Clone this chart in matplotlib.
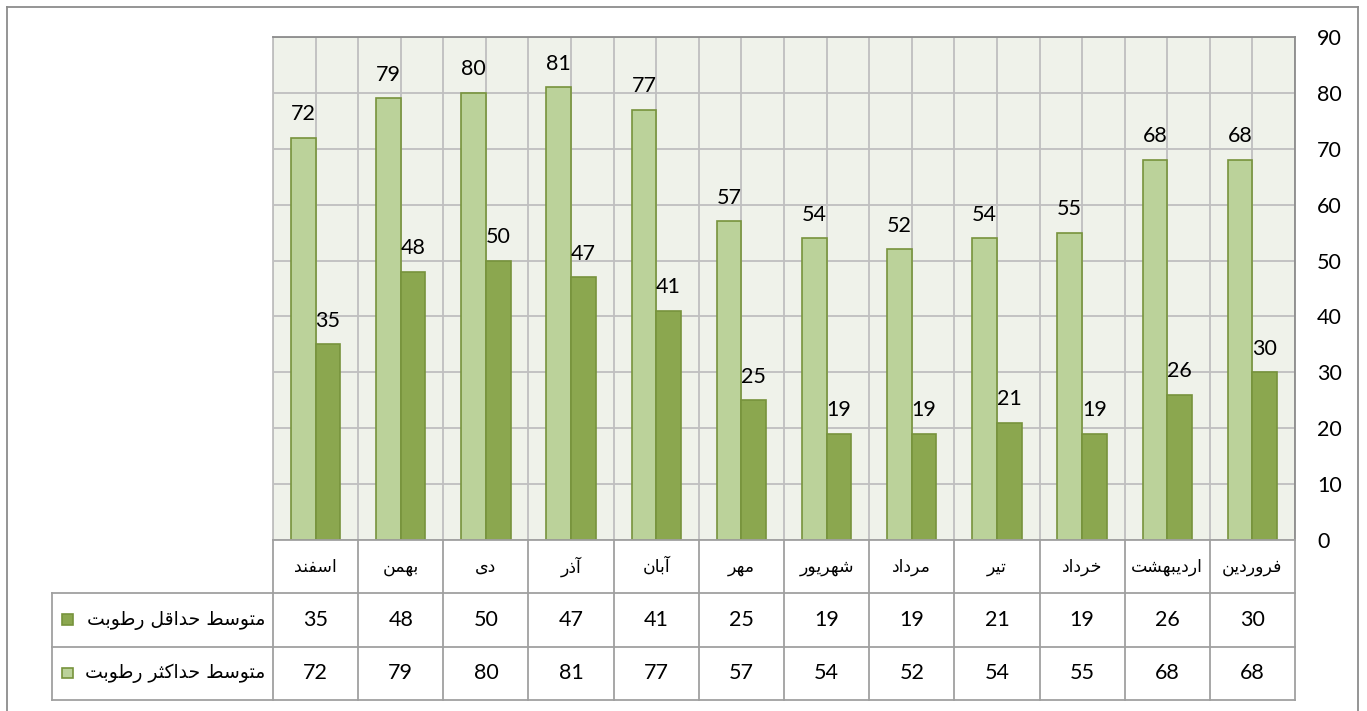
import matplotlib
matplotlib.use('Agg')
import matplotlib.pyplot as plt
import numpy as np
from matplotlib.lines import Line2D
from matplotlib.patches import Rectangle

plt.rcParams['font.family'] = ['Lato', 'DejaVu Sans']

# ماه‌ها به ترتیب تقویم (فروردین اول) - نمایش از راست به چپ
months = ['فروردین', 'اردیبهشت', 'خرداد', 'تیر', 'مرداد', 'شهریور',
          'مهر', 'آبان', 'آذر', 'دی', 'بهمن', 'اسفند']
rh_min = [30, 26, 19, 21, 19, 19, 25, 41, 47, 50, 48, 35]
rh_max = [68, 68, 55, 54, 52, 54, 57, 77, 81, 80, 79, 72]
name_min = 'متوسط حداقل رطوبت'
name_max = 'متوسط حداکثر رطوبت'
yticks = [0, 10, 20, 30, 40, 50, 60, 70, 80, 90]

c_light = '#BBD29A'
c_dark = '#8BA74F'
c_edge = '#77933C'
c_grid = '#BFBFBF'
c_bg = '#EFF2EA'

# شکل‌دهی ساده حروف فارسی (matplotlib اتصال حروف را انجام نمی‌دهد)
FORMS = {
    'ا': ('\uFE8D', '\uFE8E', None, None),
    'آ': ('\uFE81', '\uFE82', None, None),
    'ب': ('\uFE8F', '\uFE90', '\uFE91', '\uFE92'),
    'ت': ('\uFE95', '\uFE96', '\uFE97', '\uFE98'),
    'ث': ('\uFE99', '\uFE9A', '\uFE9B', '\uFE9C'),
    'ح': ('\uFEA1', '\uFEA2', '\uFEA3', '\uFEA4'),
    'خ': ('\uFEA5', '\uFEA6', '\uFEA7', '\uFEA8'),
    'د': ('\uFEA9', '\uFEAA', None, None),
    'ذ': ('\uFEAB', '\uFEAC', None, None),
    'ر': ('\uFEAD', '\uFEAE', None, None),
    'س': ('\uFEB1', '\uFEB2', '\uFEB3', '\uFEB4'),
    'ش': ('\uFEB5', '\uFEB6', '\uFEB7', '\uFEB8'),
    'ط': ('\uFEC1', '\uFEC2', '\uFEC3', '\uFEC4'),
    'ف': ('\uFED1', '\uFED2', '\uFED3', '\uFED4'),
    'ق': ('\uFED5', '\uFED6', '\uFED7', '\uFED8'),
    'ک': ('\uFB8E', '\uFB8F', '\uFB90', '\uFB91'),
    'ل': ('\uFEDD', '\uFEDE', '\uFEDF', '\uFEE0'),
    'م': ('\uFEE1', '\uFEE2', '\uFEE3', '\uFEE4'),
    'ن': ('\uFEE5', '\uFEE6', '\uFEE7', '\uFEE8'),
    'ه': ('\uFEE9', '\uFEEA', '\uFEEB', '\uFEEC'),
    'و': ('\uFEED', '\uFEEE', None, None),
    'ی': ('\uFBFC', '\uFBFD', '\uFBFE', '\uFBFF'),
}


def fa(s):
    out = []
    for k, ch in enumerate(s):
        if ch not in FORMS:
            out.append(ch)
            continue
        f = FORMS[ch]
        prev = s[k - 1] if k > 0 else ''
        nxt = s[k + 1] if k + 1 < len(s) else ''
        p_join = prev in FORMS and FORMS[prev][2] is not None
        n_join = f[2] is not None and nxt in FORMS
        if p_join and n_join:
            out.append(f[3])
        elif p_join:
            out.append(f[1])
        elif n_join:
            out.append(f[2])
        else:
            out.append(f[0])
    return ''.join(out)[::-1]


W, H = 1367, 711
fig = plt.figure(figsize=(W / 100, H / 100), dpi=100)

# کادر بیرونی نمودار
for xs, ys in [((7, 7), (0, 704)), ((7, 1358), (704, 704)), ((1358, 1358), (704, 0))]:
    fig.add_artist(Line2D([x / W for x in xs], [y / H for y in ys], color='#8C8C8C', lw=1.3))

x = np.arange(len(months))
bw = 0.29

ax = fig.add_axes([273 / W, (H - 540) / H, 1022 / W, 503 / H])
ax.set_facecolor(c_bg)
ax.set_xlim(len(months) - 0.5, -0.5)
ax.set_ylim(0, 90)
ax.set_yticks(yticks)
ax.yaxis.tick_right()
ax.tick_params(axis='y', length=0, pad=16, labelsize=15.5)
ax.set_xticks([])
ax.set_xticks(np.arange(-0.5, len(months), 0.5), minor=True)
ax.tick_params(axis='x', which='both', length=0)
ax.grid(True, axis='y', color=c_grid, lw=1.3)
ax.grid(True, axis='x', which='minor', color=c_grid, lw=1.3)
ax.set_axisbelow(True)
for s in ['left', 'right', 'top']:
    ax.spines[s].set_color('#8C8C8C')
    ax.spines[s].set_linewidth(1.3)
ax.spines['left'].set_color('#BFBFBF')
ax.spines['bottom'].set_visible(False)

b1 = ax.bar(x + bw / 2, rh_max, bw, color=c_light, edgecolor=c_edge, lw=1.2)
b2 = ax.bar(x - bw / 2, rh_min, bw, color=c_dark, edgecolor=c_edge, lw=1.2)
for bars, vals in [(b1, rh_max), (b2, rh_min)]:
    for r, v in zip(bars, vals):
        ax.annotate(str(v), (r.get_x() + r.get_width() / 2, v), xytext=(0, 17),
                    textcoords='offset points', ha='center', va='center', fontsize=15.5)

# جدول داده
tb = fig.add_axes([273 / W, (H - 700) / H, 1022 / W, 160 / H])
tb.set_xlim(len(months) - 0.5, -0.5)
tb.set_ylim(3, 0)
tb.axis('off')
lc = '#A0A0A0'
for i in range(len(months) + 1):
    tb.plot([i - 0.5, i - 0.5], [0, 3], color=lc, lw=1.3, clip_on=False)
tb.plot([-0.5, len(months) - 0.5], [0, 0], color=lc, lw=1.3, clip_on=False)
lx = -221 / 1022
for yy in [1, 2, 3]:
    tb.plot([lx, 1], [yy / 3 * -1 + 1] * 2, transform=tb.transAxes, color=lc, lw=1.3, clip_on=False)
tb.plot([lx, lx], [0, 2 / 3], transform=tb.transAxes, color=lc, lw=1.3, clip_on=False)

for i, m in enumerate(months):
    tb.text(i, 0.5, fa(m), ha='center', va='center', fontsize=12.5, family='DejaVu Sans')
    tb.text(i, 1.5, str(rh_min[i]), ha='center', va='center', fontsize=15.5)
    tb.text(i, 2.5, str(rh_max[i]), ha='center', va='center', fontsize=15.5)

for row, name, col in [(1.5, name_min, c_dark), (2.5, name_max, c_light)]:
    y_ax = 1 - row / 3
    tb.text(-8 / 1022, y_ax, fa(name), transform=tb.transAxes, ha='right', va='center',
            fontsize=13.5, family='DejaVu Sans')
    tb.add_patch(Rectangle((-211 / 1022, y_ax - 0.032), 11 / 1022, 0.068, transform=tb.transAxes,
                           facecolor=col, edgecolor=c_edge, lw=1.2, clip_on=False))

fig.savefig('out.png', dpi=100)
